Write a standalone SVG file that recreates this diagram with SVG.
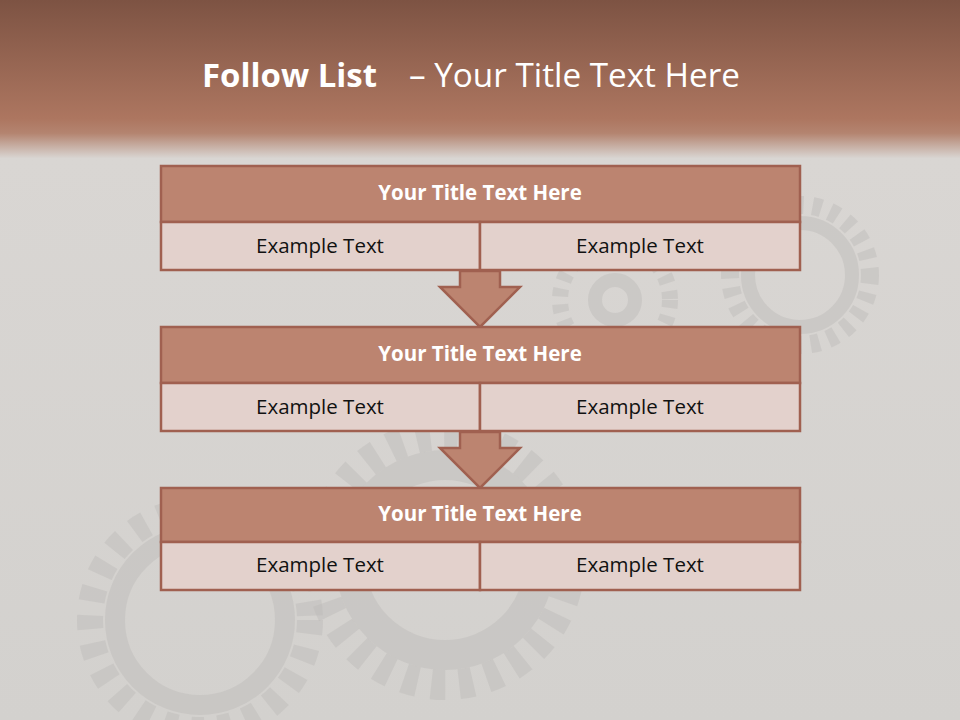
<svg xmlns="http://www.w3.org/2000/svg" width="960" height="720" viewBox="0 0 960 720">
<defs>
<linearGradient id="bg" x1="0" y1="0" x2="0" y2="1">
<stop offset="0" stop-color="#7d5343"/>
<stop offset="0.165" stop-color="#ad7660"/>
<stop offset="0.185" stop-color="#b48470"/>
<stop offset="0.22" stop-color="#d9d6d3"/>
<stop offset="1" stop-color="#d3d1ce"/>
</linearGradient>
<style>
.title{fill:#bc8470;stroke:#a06050;stroke-width:2.5}
.cell{fill:#e3d1cc;stroke:#a06050;stroke-width:2.5}
.arrow{fill:#bc8470;stroke:#a06050;stroke-width:2.5;stroke-linejoin:miter}
.tt{font-family:"Open Sans","Liberation Sans",sans-serif;font-weight:bold;font-size:20.5px;fill:#ffffff;text-anchor:middle}
.et{font-family:"Open Sans","Liberation Sans",sans-serif;font-size:20.5px;fill:#111111;text-anchor:middle}
.gear{fill:none;stroke:#bdbbb8;opacity:0.45}
</style>
</defs>
<rect x="0" y="0" width="960" height="720" fill="url(#bg)"/>
<g id="background-gears">
<circle class="gear" cx="445" cy="560" r="125" stroke-width="30" stroke-dasharray="14 14"/>
<circle class="gear" cx="445" cy="560" r="95" stroke-width="30"/>
<circle class="gear" cx="200" cy="620" r="110" stroke-width="26" stroke-dasharray="14 14"/>
<circle class="gear" cx="200" cy="620" r="85" stroke-width="20"/>
<circle class="gear" cx="800" cy="275" r="70" stroke-width="18" stroke-dasharray="9 9"/>
<circle class="gear" cx="800" cy="275" r="52" stroke-width="14"/>
<circle class="gear" cx="615" cy="300" r="55" stroke-width="16" stroke-dasharray="8 8"/>
<circle class="gear" cx="615" cy="300" r="20" stroke-width="14"/>
</g>
<g id="page-title" font-family="'Open Sans','Liberation Sans',sans-serif" font-size="32" fill="#ffffff">
<text x="202" y="87" font-weight="bold" textLength="175" lengthAdjust="spacingAndGlyphs">Follow List</text>
<text x="409" y="87" textLength="331" lengthAdjust="spacingAndGlyphs">– Your Title Text Here</text>
</g>
<g id="connectors">
<polygon class="arrow" points="460,271 500,271 500,287 520,287 480,327 440,287 460,287"/>
<polygon class="arrow" points="460,432 500,432 500,448 520,448 480,488 440,448 460,448"/>
</g>
<g id="step1">
<rect class="title" x="161" y="166" width="639" height="56"/>
<rect class="cell" x="161" y="222" width="319" height="48"/>
<rect class="cell" x="480" y="222" width="320" height="48"/>
<text class="tt" x="480" y="200">Your Title Text Here</text>
<text class="et" x="320" y="253">Example Text</text>
<text class="et" x="640" y="253">Example Text</text>
</g>
<g id="step2">
<rect class="title" x="161" y="327" width="639" height="56"/>
<rect class="cell" x="161" y="383" width="319" height="48"/>
<rect class="cell" x="480" y="383" width="320" height="48"/>
<text class="tt" x="480" y="361">Your Title Text Here</text>
<text class="et" x="320" y="414">Example Text</text>
<text class="et" x="640" y="414">Example Text</text>
</g>
<g id="step3">
<rect class="title" x="161" y="488" width="639" height="54"/>
<rect class="cell" x="161" y="542" width="319" height="48"/>
<rect class="cell" x="480" y="542" width="320" height="48"/>
<text class="tt" x="480" y="521">Your Title Text Here</text>
<text class="et" x="320" y="572">Example Text</text>
<text class="et" x="640" y="572">Example Text</text>
</g>
</svg>
